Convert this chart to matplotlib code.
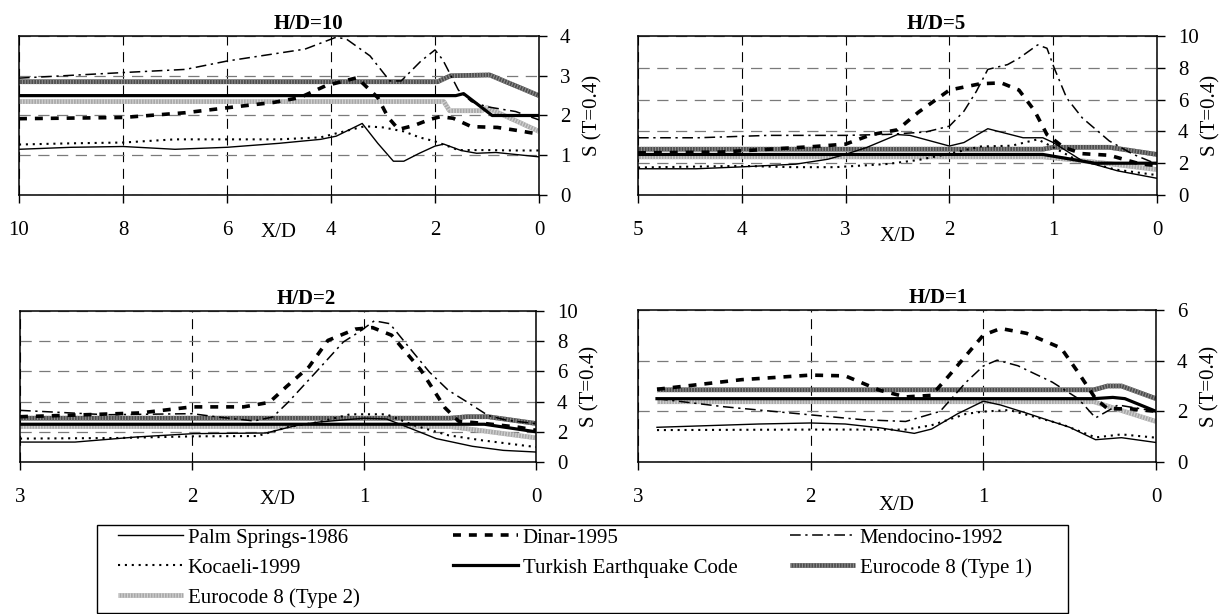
import matplotlib.pyplot as plt
from matplotlib.patches import Rectangle
from matplotlib.legend_handler import HandlerTuple

plt.rcParams['font.family'] = ['Liberation Serif', 'DejaVu Serif']

# ---- H/D=10 ----
hd10_palm_x = [10, 9, 8, 7, 6, 5, 4.2, 3.9, 3.4, 3.1, 2.8, 2.6, 2.3, 2.0, 1.83, 1.5, 1.2, 0.83, 0]
hd10_palm_y = [1.15, 1.2, 1.22, 1.15, 1.2, 1.3, 1.4, 1.48, 1.8, 1.3, 0.85, 0.85, 1.05, 1.23, 1.28, 1.12, 1.05, 1.07, 0.96]
hd10_koc_x = [10, 9, 8, 7, 6, 5, 4.2, 3.9, 3.35, 3.0, 2.6, 2.3, 2.0, 1.55, 1.0, 0.5, 0]
hd10_koc_y = [1.27, 1.3, 1.32, 1.4, 1.4, 1.4, 1.45, 1.55, 1.73, 1.7, 1.6, 1.45, 1.35, 1.13, 1.13, 1.12, 1.12]
hd10_din_x = [10, 8, 6.8, 5.7, 5.1, 4.6, 4.1, 3.5, 3.1, 2.9, 2.7, 2.4, 2.1, 1.9, 1.65, 1.3, 0.8, 0.4, 0]
hd10_din_y = [1.92, 1.95, 2.07, 2.24, 2.33, 2.45, 2.75, 2.95, 2.45, 1.95, 1.65, 1.75, 1.9, 1.97, 1.93, 1.72, 1.70, 1.62, 1.53]
hd10_men_x = [10, 8, 6.8, 6.0, 4.5, 3.9, 3.7, 3.25, 2.87, 2.65, 2.27, 2.0, 1.85, 1.55, 1.3, 1.0, 0.45, 0]
hd10_men_y = [2.94, 3.08, 3.16, 3.37, 3.67, 3.97, 3.92, 3.5, 2.87, 2.87, 3.37, 3.65, 3.4, 2.64, 2.35, 2.22, 2.1, 1.89]
hd10_tr_x = [10, 1.6, 1.45, 1.3, 0.9, 0]
hd10_tr_y = [2.5, 2.5, 2.55, 2.4, 2.0, 2.0]
hd10_ec1_x = [10, 1.95, 1.7, 0.95, 0]
hd10_ec1_y = [2.85, 2.85, 3.0, 3.02, 2.5]
hd10_ec2_x = [10, 1.83, 1.72, 1.1, 1.0, 0]
hd10_ec2_y = [2.35, 2.35, 2.12, 2.12, 2.2, 1.6]

# ---- H/D=5 ----
hd5_palm_x = [5, 4.44, 4.0, 3.48, 3.17, 3.0, 2.8, 2.5, 2.38, 2.0, 1.86, 1.63, 1.29, 1.1, 1.0, 0.72, 0.38, 0]
hd5_palm_y = [1.65, 1.65, 1.77, 1.94, 2.25, 2.56, 2.98, 3.8, 3.75, 3.08, 3.3, 4.17, 3.6, 3.6, 3.3, 2.15, 1.52, 1.05]
hd5_koc_x = [5, 4, 3.5, 3.1, 2.6, 2.3, 2.0, 1.7, 1.4, 1.15, 1.0, 0.8, 0.4, 0]
hd5_koc_y = [1.73, 1.83, 1.75, 1.75, 1.95, 2.2, 2.6, 3.05, 3.1, 3.5, 3.0, 2.3, 1.6, 1.25]
hd5_din_x = [5, 4.2, 3.3, 3.0, 2.75, 2.5, 2.3, 2.0, 1.7, 1.5, 1.33, 1.18, 1.06, 0.9, 0.72, 0.46, 0.16, 0]
hd5_din_y = [2.65, 2.7, 3.05, 3.2, 3.8, 4.1, 5.2, 6.6, 7.0, 7.05, 6.6, 5.3, 3.8, 3.0, 2.6, 2.5, 1.95, 1.85]
hd5_men_x = [5, 4.42, 3.74, 3.0, 2.6, 2.23, 2.0, 1.86, 1.74, 1.63, 1.44, 1.33, 1.15, 1.06, 0.99, 0.87, 0.72, 0.46, 0.23, 0]
hd5_men_y = [3.6, 3.6, 3.75, 3.75, 3.81, 3.96, 4.33, 5.27, 6.52, 7.9, 8.2, 8.6, 9.44, 9.23, 7.98, 6.1, 4.85, 3.4, 2.56, 1.94]
hd5_tr_x = [5, 1.1, 0.6, 0]
hd5_tr_y = [2.55, 2.55, 2.0, 2.0]
hd5_ec1_x = [5, 1.1, 1.0, 0.46, 0]
hd5_ec1_y = [2.88, 2.88, 3.0, 3.0, 2.55]
hd5_ec2_x = [5, 1.1, 0.5, 0]
hd5_ec2_y = [2.4, 2.4, 2.0, 1.6]

# ---- H/D=2 ----
hd2_palm_x = [3, 2.68, 2.32, 1.99, 1.57, 1.39, 1.26, 1.0, 0.87, 0.71, 0.58, 0.37, 0.19, 0]
hd2_palm_y = [1.32, 1.32, 1.66, 1.88, 1.92, 2.43, 2.65, 2.9, 2.85, 2.14, 1.55, 1.04, 0.77, 0.66]
hd2_koc_x = [3, 2.43, 1.99, 1.62, 1.44, 1.26, 1.08, 0.87, 0.71, 0.51, 0.31, 0]
hd2_koc_y = [1.55, 1.59, 1.7, 1.72, 2.32, 2.65, 3.16, 3.16, 2.43, 1.77, 1.43, 0.99]
hd2_din_x = [3, 2.7, 2.3, 2.0, 1.7, 1.55, 1.45, 1.32, 1.21, 1.05, 0.95, 0.84, 0.67, 0.53, 0.45, 0.3, 0.1, 0]
hd2_din_y = [3.0, 3.1, 3.25, 3.65, 3.65, 3.95, 5.0, 6.3, 8.05, 8.8, 8.9, 8.4, 6.1, 3.6, 2.7, 2.55, 2.3, 2.1]
hd2_men_x = [3, 2.5, 2.0, 1.85, 1.64, 1.53, 1.44, 1.27, 1.12, 1.03, 0.94, 0.85, 0.74, 0.62, 0.51, 0.4, 0.28, 0.17, 0]
hd2_men_y = [3.42, 3.13, 3.2, 2.98, 2.72, 2.98, 3.97, 6.07, 7.95, 8.6, 9.35, 9.16, 7.62, 5.96, 4.75, 3.97, 3.09, 2.76, 2.54]
hd2_tr_x = [3, 0.3, 0]
hd2_tr_y = [2.5, 2.5, 2.0]
hd2_ec1_x = [3, 0.5, 0.4, 0.28, 0]
hd2_ec1_y = [2.9, 2.9, 3.0, 3.0, 2.55]
hd2_ec2_x = [3, 0.5, 0]
hd2_ec2_y = [2.35, 2.35, 1.6]

# ---- H/D=1 ----
hd1_palm_x = [2.89, 2.3, 2.0, 1.8, 1.6, 1.4, 1.3, 1.15, 1.0, 0.9, 0.75, 0.5, 0.35, 0.2, 0]
hd1_palm_y = [1.37, 1.5, 1.54, 1.5, 1.35, 1.13, 1.3, 1.9, 2.4, 2.25, 1.93, 1.37, 0.88, 0.96, 0.77]
hd1_koc_x = [2.89, 2.0, 1.45, 1.3, 1.1, 1.0, 0.85, 0.55, 0.35, 0.2, 0]
hd1_koc_y = [1.26, 1.28, 1.28, 1.45, 1.9, 1.99, 2.05, 1.5, 0.97, 1.09, 0.96]
hd1_din_x = [2.89, 2.4, 2.0, 1.8, 1.6, 1.45, 1.3, 1.2, 1.0, 0.9, 0.75, 0.55, 0.45, 0.35, 0.28, 0.15, 0]
hd1_din_y = [2.87, 3.25, 3.43, 3.4, 2.83, 2.57, 2.63, 3.4, 5.01, 5.27, 5.08, 4.5, 3.53, 2.5, 2.1, 2.1, 2.0]
hd1_men_x = [2.89, 2.5, 2.0, 1.7, 1.45, 1.25, 1.1, 1.0, 0.92, 0.8, 0.6, 0.45, 0.35, 0.22, 0]
hd1_men_y = [2.5, 2.18, 1.86, 1.67, 1.6, 2.0, 3.15, 3.79, 4.02, 3.8, 3.15, 2.5, 1.74, 2.25, 2.0]
hd1_tr_x = [2.89, 0.36, 0.25, 0.18, 0]
hd1_tr_y = [2.5, 2.5, 2.55, 2.5, 2.0]
hd1_ec1_x = [2.89, 0.36, 0.28, 0.2, 0]
hd1_ec1_y = [2.85, 2.85, 3.0, 3.0, 2.5]
hd1_ec2_x = [2.89, 0.36, 0]
hd1_ec2_y = [2.38, 2.38, 1.6]

labels = ['Palm Springs-1986', 'Dinar-1995', 'Mendocino-1992', 'Kocaeli-1999',
          'Turkish Earthquake Code', 'Eurocode 8 (Type 1)', 'Eurocode 8 (Type 2)']

panels = [
    dict(title='H/D=10', xmax=10, xticks=[10, 8, 6, 4, 2, 0], yticks=[0, 1, 2, 3, 4],
         rect=(19, 36, 539, 195), tx=0.556, xd=-0.235,
         palm=(hd10_palm_x, hd10_palm_y), koc=(hd10_koc_x, hd10_koc_y),
         din=(hd10_din_x, hd10_din_y), men=(hd10_men_x, hd10_men_y),
         tr=(hd10_tr_x, hd10_tr_y), ec1=(hd10_ec1_x, hd10_ec1_y), ec2=(hd10_ec2_x, hd10_ec2_y)),
    dict(title='H/D=5', xmax=5, xticks=[5, 4, 3, 2, 1, 0], yticks=[0, 2, 4, 6, 8, 10],
         rect=(638, 36, 1157, 195), tx=0.574, xd=-0.26,
         palm=(hd5_palm_x, hd5_palm_y), koc=(hd5_koc_x, hd5_koc_y),
         din=(hd5_din_x, hd5_din_y), men=(hd5_men_x, hd5_men_y),
         tr=(hd5_tr_x, hd5_tr_y), ec1=(hd5_ec1_x, hd5_ec1_y), ec2=(hd5_ec2_x, hd5_ec2_y)),
    dict(title='H/D=2', xmax=3, xticks=[3, 2, 1, 0], yticks=[0, 2, 4, 6, 8, 10],
         rect=(20, 311, 536, 462), tx=0.554, xd=-0.25,
         palm=(hd2_palm_x, hd2_palm_y), koc=(hd2_koc_x, hd2_koc_y),
         din=(hd2_din_x, hd2_din_y), men=(hd2_men_x, hd2_men_y),
         tr=(hd2_tr_x, hd2_tr_y), ec1=(hd2_ec1_x, hd2_ec1_y), ec2=(hd2_ec2_x, hd2_ec2_y)),
    dict(title='H/D=1', xmax=3, xticks=[3, 2, 1, 0], yticks=[0, 2, 4, 6],
         rect=(638, 310, 1156, 462), tx=0.579, xd=-0.285,
         palm=(hd1_palm_x, hd1_palm_y), koc=(hd1_koc_x, hd1_koc_y),
         din=(hd1_din_x, hd1_din_y), men=(hd1_men_x, hd1_men_y),
         tr=(hd1_tr_x, hd1_tr_y), ec1=(hd1_ec1_x, hd1_ec1_y), ec2=(hd1_ec2_x, hd1_ec2_y)),
]

W, H = 1225, 614
fig = plt.figure(figsize=(W / 100, H / 100), dpi=100)

for p in panels:
    x0, y0, x1, y1 = p['rect']
    ax = fig.add_axes([x0 / W, 1 - y1 / H, (x1 - x0) / W, (y1 - y0) / H])

    # codes first (behind the records)
    e1a, = ax.plot(*p['ec1'], color='#4d4d4d', lw=3.4, solid_capstyle='butt', zorder=2)
    e1b, = ax.plot(*p['ec1'], color='#8c8c8c', lw=3.4, ls=(0, (0.25, 0.35)), zorder=2.1)
    e2a, = ax.plot(*p['ec2'], color='#a8a8a8', lw=3.4, solid_capstyle='butt', zorder=2)
    e2b, = ax.plot(*p['ec2'], color='#d2d2d2', lw=3.4, ls=(0, (0.25, 0.35)), zorder=2.1)
    tr, = ax.plot(*p['tr'], color='black', lw=2.3, zorder=2.5)
    palm, = ax.plot(*p['palm'], color='black', lw=1.0, zorder=3)
    koc, = ax.plot(*p['koc'], color='black', lw=1.5, ls=(0, (1, 2.3)), zorder=3)
    din, = ax.plot(*p['din'], color='black', lw=2.6, ls=(0, (2.2, 2.2)), zorder=3)
    men, = ax.plot(*p['men'], color='black', lw=1.1, ls=(0, (7, 3, 1.5, 3)), zorder=3)

    ax.set_xlim(p['xmax'], 0)
    ax.set_ylim(p['yticks'][0], p['yticks'][-1])
    ax.set_xticks(p['xticks'])
    ax.set_yticks(p['yticks'])
    ax.yaxis.tick_right()
    ax.yaxis.set_label_position('right')
    ax.tick_params(axis='x', direction='out', length=6, width=1, pad=13, labelsize=15)
    ax.tick_params(axis='y', direction='out', length=6, width=1, pad=9, labelsize=15,
                   right=True, left=False, labelright=True, labelleft=False)
    ax.grid(axis='x', color='black', lw=0.8, ls=(0, (9, 6)))
    ax.grid(axis='y', color='#7a7a7a', lw=0.9, ls=(0, (9, 6)))
    ax.set_axisbelow(True)
    for s in ax.spines.values():
        s.set_linewidth(1.1)
        s.set_color('black')

    ax.set_ylabel('S (T=0.4)', fontsize=15)
    ax.yaxis.set_label_coords(1.085, 0.5)
    ax.set_title(p['title'], fontsize=15, fontweight='bold', x=p['tx'], pad=5)
    ax.text(0.5, p['xd'], 'X/D', transform=ax.transAxes, ha='center', va='center', fontsize=15)

# legend: one block per column so each column starts where the original does
columns = [
    ([palm, koc, (e2a, e2b)], [labels[0], labels[3], labels[6]], 118),
    ([din, tr], [labels[1], labels[4]], 453),
    ([men, (e1a, e1b)], [labels[2], labels[5]], 790),
]
for hs, ls, xpix in columns:
    fig.legend(hs, ls, ncol=1, loc='upper left',
               bbox_to_anchor=(xpix / W, 1 - 528 / H), frameon=False, fontsize=15,
               handlelength=3.1, handletextpad=0.25, labelspacing=0.5,
               borderpad=0, borderaxespad=0,
               handler_map={tuple: HandlerTuple(ndivide=1, pad=0)})
fig.patches.append(Rectangle((97 / W, 1 / H), (1068 - 97) / W, (613 - 525) / H,
                             transform=fig.transFigure, fill=False, edgecolor='black', lw=1.0))

fig.savefig('out.png', dpi=100)
